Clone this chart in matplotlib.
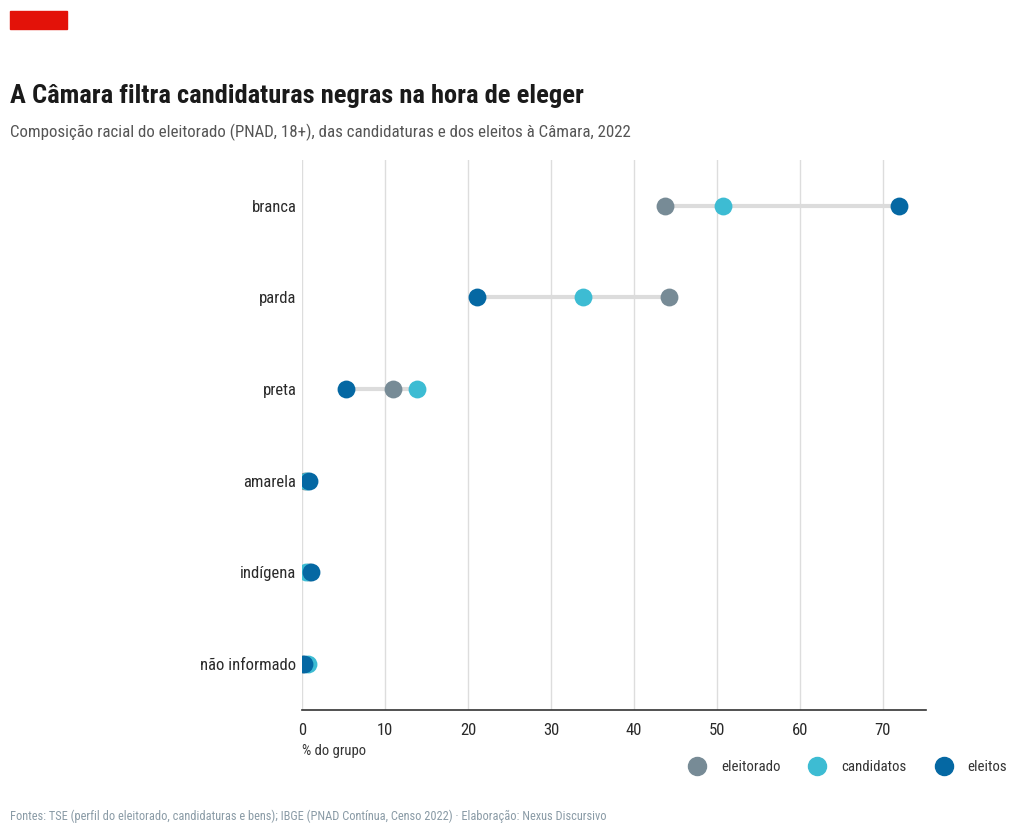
import numpy as np
import matplotlib
matplotlib.use("Agg")
import matplotlib.pyplot as plt
from matplotlib.patches import Rectangle
from matplotlib.lines import Line2D

# Fonte (condensada se existir)
plt.rcParams['font.family'] = ['Roboto Condensed', 'Roboto', 'DejaVu Sans']

# Dados (% do grupo)
categorias = ["branca", "parda", "preta", "amarela", "indígena", "não informado"]
eleitorado = [43.7, 44.2, 11.0, 0.4, 0.8, 0.0]
candidatos = [50.7, 33.9, 13.9, 0.6, 0.5, 0.7]
eleitos = [72.0, 21.1, 5.3, 0.8, 1.1, 0.3]

series = ["eleitorado", "candidatos", "eleitos"]
cores = {"eleitorado": "#778b96", "candidatos": "#3dbcd3", "eleitos": "#0568a3"}

fig = plt.figure(figsize=(10.24, 8.35), dpi=100)
ax = fig.add_axes([0.2949, 0.1497, 0.6094, 0.6587])

y = np.arange(len(categorias))
dados = np.array([eleitorado, candidatos, eleitos])

# linhas ligando o menor e o maior valor
ax.hlines(y, dados.min(axis=0), dados.max(axis=0), color="#dcdcdc", lw=3, zorder=2)

for i, nome in enumerate(series):
    ax.scatter(dados[i], y, s=165, color=cores[nome], zorder=3 + i, linewidths=0)

ax.set_xlim(0, 75.2)
ax.set_ylim(len(categorias) - 0.5, -0.5)
ax.set_yticks(y)
ax.set_yticklabels(categorias)
ax.set_xticks([0, 10, 20, 30, 40, 50, 60, 70])
ax.tick_params(axis="both", length=0, labelsize=12, colors="#2a2a2a")
ax.tick_params(axis="y", pad=4)
ax.tick_params(axis="x", pad=9)
ax.grid(axis="x", color="#dddddd", lw=1)
ax.set_axisbelow(True)
for s in ["left", "right", "top"]:
    ax.spines[s].set_visible(False)
ax.spines["bottom"].set_color("#333333")
ax.spines["bottom"].set_linewidth(1.2)

ax.text(0, -0.061, "% do grupo", transform=ax.transAxes, fontsize=10.5,
        color="#333333", ha="left", va="top")

# Legenda
handles = [Line2D([], [], marker="o", ls="", markersize=13, color=cores[n]) for n in series]
fig.legend(handles, series, loc="center right", bbox_to_anchor=(1007 / 1024, 1 - 767 / 835),
           ncol=3, frameon=False, fontsize=10.7, handlelength=1.0, handletextpad=1.1,
           columnspacing=2.0, labelcolor="#333333", borderpad=0, borderaxespad=0)

# Títulos
fig.patches.append(Rectangle((10 / 1024, 1 - 29 / 835), 57 / 1024, 18 / 835,
                             transform=fig.transFigure, color="#e31209"))
titulo = fig.text(10 / 1024, 1 - 96 / 835, "A Câmara filtra candidaturas negras na hora de eleger",
                  fontsize=18, fontweight="bold", color="#1a1a1a", ha="left", va="center")
subtitulo = fig.text(10 / 1024, 1 - 132 / 835,
                     "Composição racial do eleitorado (PNAD, 18+), das candidaturas e dos eleitos à Câmara, 2022",
                     fontsize=12.5, color="#555555", ha="left", va="center")
rodape = fig.text(10 / 1024, 1 - 816 / 835,
                  "Fontes: TSE (perfil do eleitorado, candidaturas e bens); IBGE (PNAD Contínua, Censo 2022) · Elaboração: Nexus Discursivo",
                  fontsize=9, color="#8a9ba6", ha="left", va="center")

# ajusta o tamanho das fontes para a largura do original
renderer = fig.canvas.get_renderer()
for t, largura in [(titulo, 572), (subtitulo, 622), (rodape, 598)]:
    w = t.get_window_extent(renderer).width
    t.set_fontsize(t.get_fontsize() * largura / w)

fig.savefig("out.png", dpi=100)
